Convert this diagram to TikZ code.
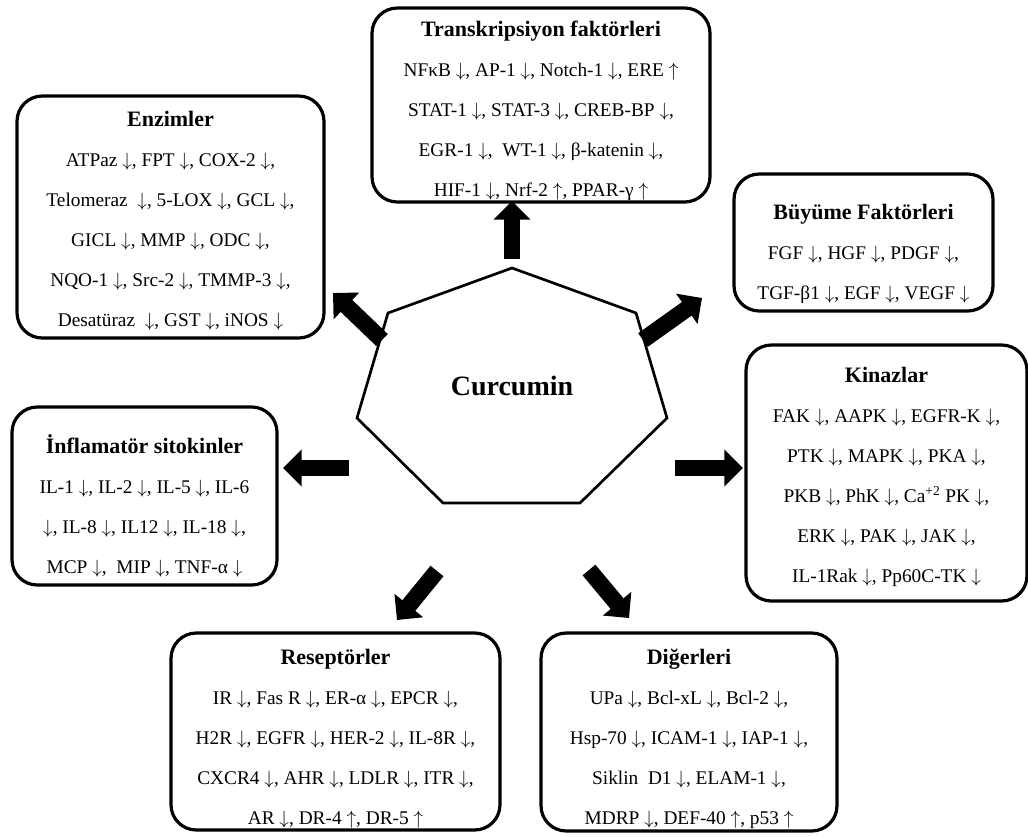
\documentclass[tikz,border=0pt]{standalone}
\usepackage{fontspec}
\setmainfont{Liberation Serif}
\usetikzlibrary{arrows.meta}
\newcommand{\dnarr}{$\downarrow$}
\newcommand{\uparr}{$\uparrow$}

\begin{document}
\begin{tikzpicture}[x=0.75pt,y=-0.75pt]
        \tikzset{group box/.style={draw=black, line width=2.4pt, rounded corners=19pt, inner sep=0pt},
          group text/.style={align=center, inner sep=0pt, font=\fontsize{14.5}{30}\selectfont},
          fat arrow/.style={line width=12.5pt, -{Triangle[width=27pt,length=14pt]}}}
        \useasboundingbox (0,0) rectangle (1028,836);
        \node[group box, minimum width=253.5pt, minimum height=145.5pt] (trans) at (541,105) {};
        \node[group text, yshift=-4.5pt] (translist) at (trans) {{\fontsize{16.5}{30}\selectfont\bfseries Transkripsiyon faktörleri}\\
          NFκB \dnarr, AP-1 \dnarr, Notch-1 \dnarr, ERE \uparr\\
          STAT-1 \dnarr, STAT-3 \dnarr, CREB-BP \dnarr,\\
          EGR-1 \dnarr,~ WT-1 \dnarr, β-katenin \dnarr,\\
          HIF-1 \dnarr, Nrf-2 \uparr, PPAR-γ \uparr};
        \node[group box, minimum width=230.25pt, minimum height=181.5pt] (enz) at (170.5,217) {};
        \node[group text, yshift=-3pt] (enzlist) at (enz) {{\fontsize{16.5}{30}\selectfont\bfseries Enzimler}\\
          ATPaz \dnarr, FPT \dnarr, COX-2 \dnarr,\\
          Telomeraz~ \dnarr, 5-LOX \dnarr, GCL \dnarr,\\
          GICL \dnarr, MMP \dnarr, ODC \dnarr,\\
          NQO-1 \dnarr, Src-2 \dnarr, TMMP-3 \dnarr,\\
          Desatüraz~ \dnarr, GST \dnarr, iNOS \dnarr};
        \node[group box, minimum width=194.25pt, minimum height=102.75pt] (buy) at (863.5,242.5) {};
        \node[group text, yshift=-8.25pt] (buylist) at (buy) {{\fontsize{16.5}{30}\selectfont\bfseries Büyüme Faktörleri}\\
          FGF \dnarr, HGF \dnarr, PDGF \dnarr,\\
          TGF-β1 \dnarr, EGF \dnarr, VEGF \dnarr};
        \node[group box, minimum width=210.75pt, minimum height=192pt] (kin) at (886.5,473) {};
        \node[group text, yshift=-3pt] (kinlist) at (kin) {{\fontsize{16.5}{30}\selectfont\bfseries Kinazlar}\\
          FAK \dnarr, AAPK \dnarr, EGFR-K \dnarr,\\
          PTK \dnarr, MAPK \dnarr, PKA \dnarr,\\
          PKB \dnarr, PhK \dnarr, Ca\textsuperscript{+2} PK \dnarr,\\
          ERK \dnarr, PAK \dnarr, JAK \dnarr,\\
          IL-1Rak \dnarr, Pp60C-TK \dnarr};
        \node[group box, minimum width=198.75pt, minimum height=133.5pt] (inf) at (144.5,496) {};
        \node[group text, yshift=-7.5pt] (inflist) at (inf) {{\fontsize{16.5}{30}\selectfont\bfseries İnflamatör sitokinler}\\
          IL-1 \dnarr, IL-2 \dnarr, IL-5 \dnarr, IL-6\\
          \dnarr, IL-8 \dnarr, IL12 \dnarr, IL-18 \dnarr,\\
          MCP \dnarr,~ MIP \dnarr, TNF-α \dnarr};
        \node[group box, minimum width=246.75pt, minimum height=147.75pt] (res) at (335.5,731.5) {};
        \node[group text, yshift=-5.25pt] (reslist) at (res) {{\fontsize{16.5}{30}\selectfont\bfseries Reseptörler}\\
          IR \dnarr, Fas R \dnarr, ER-α \dnarr, EPCR \dnarr,\\
          H2R \dnarr, EGFR \dnarr, HER-2 \dnarr, IL-8R \dnarr,\\
          CXCR4 \dnarr, AHR \dnarr, LDLR \dnarr, ITR \dnarr,\\
          AR \dnarr, DR-4 \uparr, DR-5 \uparr};
        \node[group box, minimum width=222pt, minimum height=148.5pt] (dig) at (689,732) {};
        \node[group text, yshift=-5.25pt] (diglist) at (dig) {{\fontsize{16.5}{30}\selectfont\bfseries Diğerleri}\\
          UPa \dnarr, Bcl-xL \dnarr, Bcl-2 \dnarr,\\
          Hsp-70 \dnarr, ICAM-1 \dnarr, IAP-1 \dnarr,\\
          Siklin~ D1 \dnarr, ELAM-1 \dnarr,\\
          MDRP \dnarr, DEF-40 \uparr, p53 \uparr};
        \draw[line width=2pt, line join=miter] (512,268) -- (636,313) -- (667,418) -- (580,503) -- (443,503) -- (357,418) -- (388,313) -- cycle;
        \node[font=\fontsize{21}{25}\selectfont\bfseries] (cur) at (512,386) {Curcumin};
        \coordinate (tU) at (512,259); \coordinate (hU) at (512,201);
        \coordinate (tUL) at (382,340); \coordinate (hUL) at (333,293);
        \coordinate (tUR) at (643,340); \coordinate (hUR) at (702,298);
        \coordinate (tL) at (349,468); \coordinate (hL) at (283,468);
        \coordinate (tR) at (675,468); \coordinate (hR) at (743,468);
        \coordinate (tBL) at (437,571); \coordinate (hBL) at (397,620);
        \coordinate (tBR) at (589,570); \coordinate (hBR) at (629,618);
        \draw[fat arrow] (tU) -- (hU);
        \draw[fat arrow] (tUL) -- (hUL);
        \draw[fat arrow] (tUR) -- (hUR);
        \draw[fat arrow] (tL) -- (hL);
        \draw[fat arrow] (tR) -- (hR);
        \draw[fat arrow] (tBL) -- (hBL);
        \draw[fat arrow] (tBR) -- (hBR);
      \end{tikzpicture}
\end{document}
